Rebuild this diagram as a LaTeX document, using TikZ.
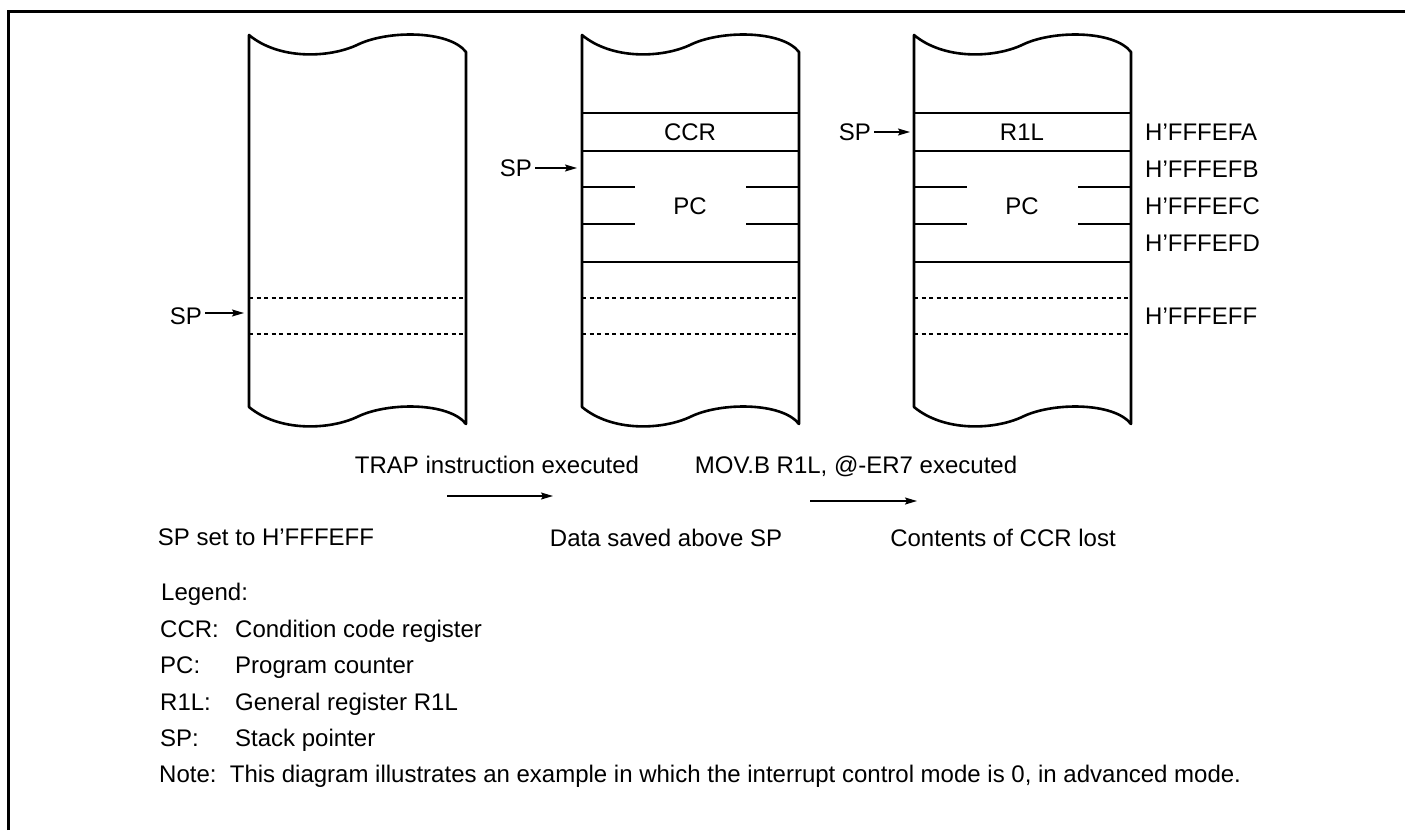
\documentclass[tikz,border=0pt]{standalone}
\usepackage{fontspec}
\setmainfont{Liberation Sans}
\usetikzlibrary{arrows.meta, positioning}

\begin{document}
\begin{tikzpicture}[
    x=1pt, y=-1pt,
    txt/.style={inner sep=3pt, text height=17pt, text depth=0pt, font=\fontsize{24}{28}\selectfont},
    wall/.style={draw, line width=2.6pt, line join=round},
    slot/.style={draw, line width=2.6pt},
    dashline/.style={draw, line width=1.3pt, dash pattern=on 4pt off 3.5pt},
    arrow/.style={draw, line width=1.4pt, -{Stealth[length=12pt, width=7pt, inset=2pt]}}
]
\useasboundingbox (0,0) rectangle (1405,830);

% Frame
\draw[line width=3pt] (8,830) -- (8,11) -- (1405,11);

% Stack columns
\foreach \cx in {249,582,914} {
  \draw[wall] (\cx,35) .. controls (\cx+30,60) and (\cx+80,58) .. (\cx+108,45)
    .. controls (\cx+138,30) and (\cx+200,30) .. (\cx+217,52)
    -- (\cx+217,424) .. controls (\cx+200,402) and (\cx+138,402) .. (\cx+108,417)
    .. controls (\cx+80,430) and (\cx+30,432) .. (\cx,407) -- cycle;
  \draw[dashline] (\cx,298) -- +(217,0);
  \draw[dashline] (\cx,334) -- +(217,0);
}

% Saved rows
\foreach \cx in {582,914} {
  \draw[slot] (\cx,113) -- +(217,0);
  \draw[slot] (\cx,151) -- +(217,0);
  \draw[slot] (\cx,262) -- +(217,0);
  \draw[slot] (\cx,187) -- +(53,0) (\cx+164,187) -- +(53,0);
  \draw[slot] (\cx,224) -- +(53,0) (\cx+164,224) -- +(53,0);
}

% Row contents
\node[txt] (ccr) at (690,132) {CCR};
\node[txt] (pc2) at (690,206) {PC};
\node[txt] (r1l) at (1022,132) {R1L};
\node[txt] (pc3) at (1022,206) {PC};

% Stack pointers
\coordinate (s1) at (244,313);
\coordinate (s2) at (577,168);
\coordinate (s3) at (910,132);
\node[txt, anchor=east] (sp1) at (205,316) {SP};
\node[txt, anchor=east] (sp2) at (535,168) {SP};
\node[txt, anchor=east] (sp3) at (874,132) {SP};
\draw[arrow] (sp1.east |- s1) -- (s1);
\draw[arrow] (sp2.east) -- (s2);
\draw[arrow] (sp3.east) -- (s3);

% Addresses
\node[txt, anchor=west] (afa) at (1142,132) {H'FFFEFA};
\node[txt, anchor=west] (afb) at (1142,169) {H'FFFEFB};
\node[txt, anchor=west] (afc) at (1142,206) {H'FFFEFC};
\node[txt, anchor=west] (afd) at (1142,243) {H'FFFEFD};
\node[txt, anchor=west] (aff) at (1142,316) {H'FFFEFF};

% Transitions
\node[txt] (trap) at (497,465) {TRAP instruction executed};
\node[txt] (mov) at (856,465) {MOV.B R1L, @-ER7 executed};
\coordinate (t1a) at (447,496);
\coordinate (t1b) at (553,496);
\coordinate (t2a) at (810,501);
\coordinate (t2b) at (917,501);
\draw[arrow] (t1a) -- (t1b);
\draw[arrow] (t2a) -- (t2b);
\node[txt] (st1) at (266,537) {SP set to H'FFFEFF};
\node[txt] (st2) at (666,538) {Data saved above SP};
\node[txt] (st3) at (1003,538) {Contents of CCR lost};

% Legend
\node[txt, anchor=west] (legend) at (158,592) {Legend:};
\node[txt, anchor=west] (kccr) at (157,629) {CCR:};
\node[txt, anchor=west] (kpc) at (157,665) {PC:};
\node[txt, anchor=west] (kr1l) at (157,702) {R1L:};
\node[txt, anchor=west] (ksp) at (157,738) {SP:};
\node[txt, anchor=west] (dccr) at (232,629) {Condition code register};
\node[txt, anchor=west] (dpc) at (232,665) {Program counter};
\node[txt, anchor=west] (dr1l) at (232,702) {General register R1L};
\node[txt, anchor=west] (dsp) at (232,738) {Stack pointer};
\node[txt, anchor=west] (note) at (156,774) {Note:\ \ This diagram illustrates an example in which the interrupt control mode is 0, in advanced mode.};

\end{tikzpicture}
\end{document}
